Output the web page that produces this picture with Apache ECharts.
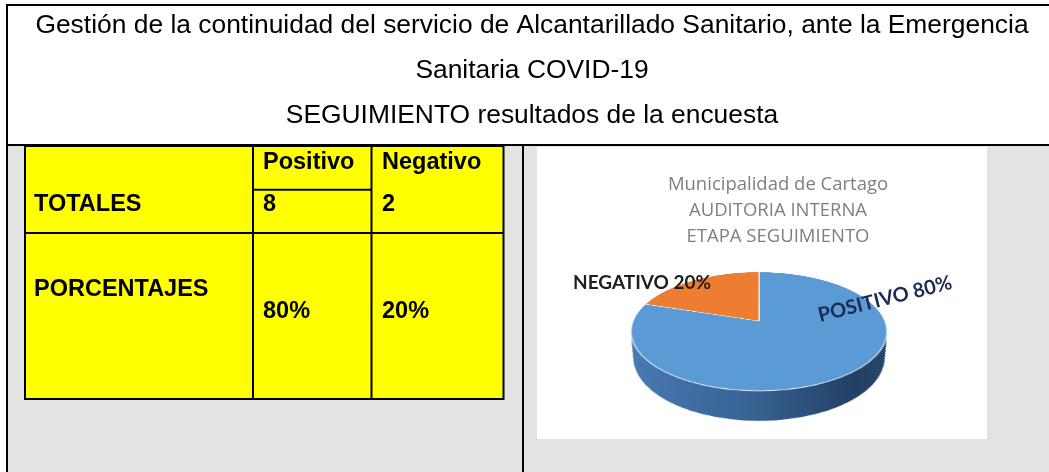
<!DOCTYPE html>
<html><head><meta charset="utf-8">
<script src="https://cdn.jsdelivr.net/npm/echarts@6/dist/echarts.min.js"></script>
<style>
html,body{margin:0;padding:0;width:1049px;height:472px;overflow:hidden;background:#fff}
#bg{position:absolute;left:0;top:0;width:1049px;height:472px}
#pie{position:absolute;left:559px;top:121px;width:400px;height:400px;transform-origin:50% 50%;transform:perspective(635px) rotateX(62.8deg)}
#fg{position:absolute;left:0;top:0;width:1049px;height:472px;pointer-events:none}
</style></head><body>
<div id="bg"></div><div id="pie"></div><div id="fg"></div>
<script>
// ---- data ----
const titleLines = ['Gestión de la continuidad del servicio de Alcantarillado Sanitario, ante la Emergencia', 'Sanitaria COVID-19', 'SEGUIMIENTO resultados de la encuesta'];
const rowLabels = ['TOTALES', 'PORCENTAJES'];
const categories = ['Positivo', 'Negativo'];
const totals = [8, 2];
const chartTitleLines = ['Municipalidad de Cartago', 'AUDITORIA INTERNA', 'ETAPA SEGUIMIENTO'];
const sliceLabels = ['POSITIVO', 'NEGATIVO'];

// ---- styles ----
const sliceColors = ['#5b9bd5', '#ed7d31'];
const ARIAL = '"Liberation Sans", Arial, sans-serif';
const CAL = 'Lato, "Open Sans", sans-serif';
const OPEN = '"Open Sans", Lato, sans-serif';

const sum = totals.reduce((a, b) => a + b, 0);
const pct = totals.map(v => Math.round(v / sum * 100) + '%');

function txt(x, y, text, o) {
  o = o || {};
  return {
    type: 'text', x: x, y: y, rotation: o.rotation || 0, silent: true, z: 10,
    style: {
      text: text, fill: o.fill || '#000',
      fontSize: o.size || 20, fontFamily: o.family || ARIAL, fontWeight: o.weight || 'normal',
      textAlign: o.align || 'left', align: o.align || 'left',
      textVerticalAlign: 'middle', verticalAlign: 'middle'
    }
  };
}
function line(x1, y1, x2, y2, w) {
  return { type: 'line', silent: true, z: 5, shape: { x1, y1, x2, y2 }, style: { stroke: '#000', lineWidth: w || 2 } };
}
function rect(x, y, w, h, fill, stroke) {
  const st = { fill: fill };
  if (stroke) { st.stroke = stroke; st.lineWidth = 2; }
  return { type: 'rect', silent: true, z: 1, shape: { x, y, width: w, height: h }, style: st };
}

// ---- background + table ----
const bgEls = [];
bgEls.push(rect(8, 146, 1041, 326, '#e3e3e3'));
bgEls.push(rect(537, 147, 450, 292, '#ffffff'));
bgEls.push(rect(25, 146, 478.5, 253, '#ffff00', '#000'));
const colX = [253, 371.5];
bgEls.push(line(colX[0], 146, colX[0], 399));
bgEls.push(line(colX[1], 146, colX[1], 399));
bgEls.push(line(colX[0], 189.7, colX[1], 189.7));
bgEls.push(line(25, 233, 503.5, 233));
bgEls.push(line(6, 5, 1049, 5));
bgEls.push(line(7, 4, 7, 472));
bgEls.push(line(6, 145, 1049, 145));
bgEls.push(line(523, 145, 523, 472));

const titleY = [26, 71, 116];
titleLines.forEach((t, i) => bgEls.push(txt(532, titleY[i], t, { size: 26.4, align: 'center' })));

const cellTextX = [263, 382];
const B = { size: 23.5, weight: 'bold' };
categories.forEach((c, i) => bgEls.push(txt(cellTextX[i], 163, c, B)));
bgEls.push(txt(34, 205, rowLabels[0], B));
bgEls.push(txt(34, 290, rowLabels[1], B));
totals.forEach((v, i) => bgEls.push(txt(cellTextX[i], 205, String(v), B)));
pct.forEach((p, i) => bgEls.push(txt(cellTextX[i], 312, p, B)));

const ctY = [185, 211, 237];
chartTitleLines.forEach((t, i) => bgEls.push(txt(778, ctY[i], t, { size: 18.5, family: OPEN, fill: '#7f7f7f', align: 'center' })));

const bg = echarts.init(document.getElementById('bg'), null, { renderer: 'canvas' });
bg.setOption({ animation: false, backgroundColor: '#ffffff', graphic: { elements: bgEls } });

// ---- pie (drawn flat, tilted in 3D by CSS) ----
const PERS = 635, ANG = 62.8 * Math.PI / 180, S = Math.sin(ANG);
const R = 126, CX = 200, CY = 200, K = 54, DEPTH = 53;
const sideGrad = new echarts.graphic.LinearGradient(CX - R, 0, CX + R, 0, [
  { offset: 0, color: '#4a7cb6' }, { offset: 0.45, color: '#386596' },
  { offset: 0.82, color: '#223f63' }, { offset: 1, color: '#2a4a70' }
], true);
const pieData = categories.map((c, i) => ({ name: c, value: totals[i] }));
const series = [];
for (let k = K; k >= 1; k--) {
  const yk = DEPTH * k / K, t = k / K;
  const rk = R * (1 - 0.02 * t) * (PERS - yk * S) / PERS;
  series.push({
    type: 'pie', silent: true, animation: false, startAngle: 90, clockwise: true,
    center: [CX, CY + yk], radius: rk, label: { show: false }, labelLine: { show: false },
    itemStyle: { color: sideGrad, borderWidth: 0 }, data: pieData
  });
}
series.push({
  type: 'pie', silent: true, animation: false, startAngle: 90, clockwise: true,
  center: [CX, CY], radius: R, label: { show: false }, labelLine: { show: false },
  itemStyle: { color: p => sliceColors[p.dataIndex], borderColor: 'rgba(255,255,255,0.85)', borderWidth: 1.2 },
  data: pieData
});
const pie = echarts.init(document.getElementById('pie'), null, { renderer: 'canvas' });
pie.setOption({ animation: false, series: series });

// ---- slice labels ----
const fgEls = [];
fgEls.push(txt(573, 283, sliceLabels[1] + ' ' + pct[1], { size: 19, family: CAL, weight: 'bold', fill: '#1e1e1e' }));
fgEls.push(txt(885, 299, sliceLabels[0] + ' ' + pct[0], { size: 20, family: CAL, weight: 'bold', fill: '#1b2b55', align: 'center', rotation: 14 * Math.PI / 180 }));
const fg = echarts.init(document.getElementById('fg'), null, { renderer: 'canvas' });
fg.setOption({ animation: false, backgroundColor: 'transparent', graphic: { elements: fgEls } });
</script></body></html>
